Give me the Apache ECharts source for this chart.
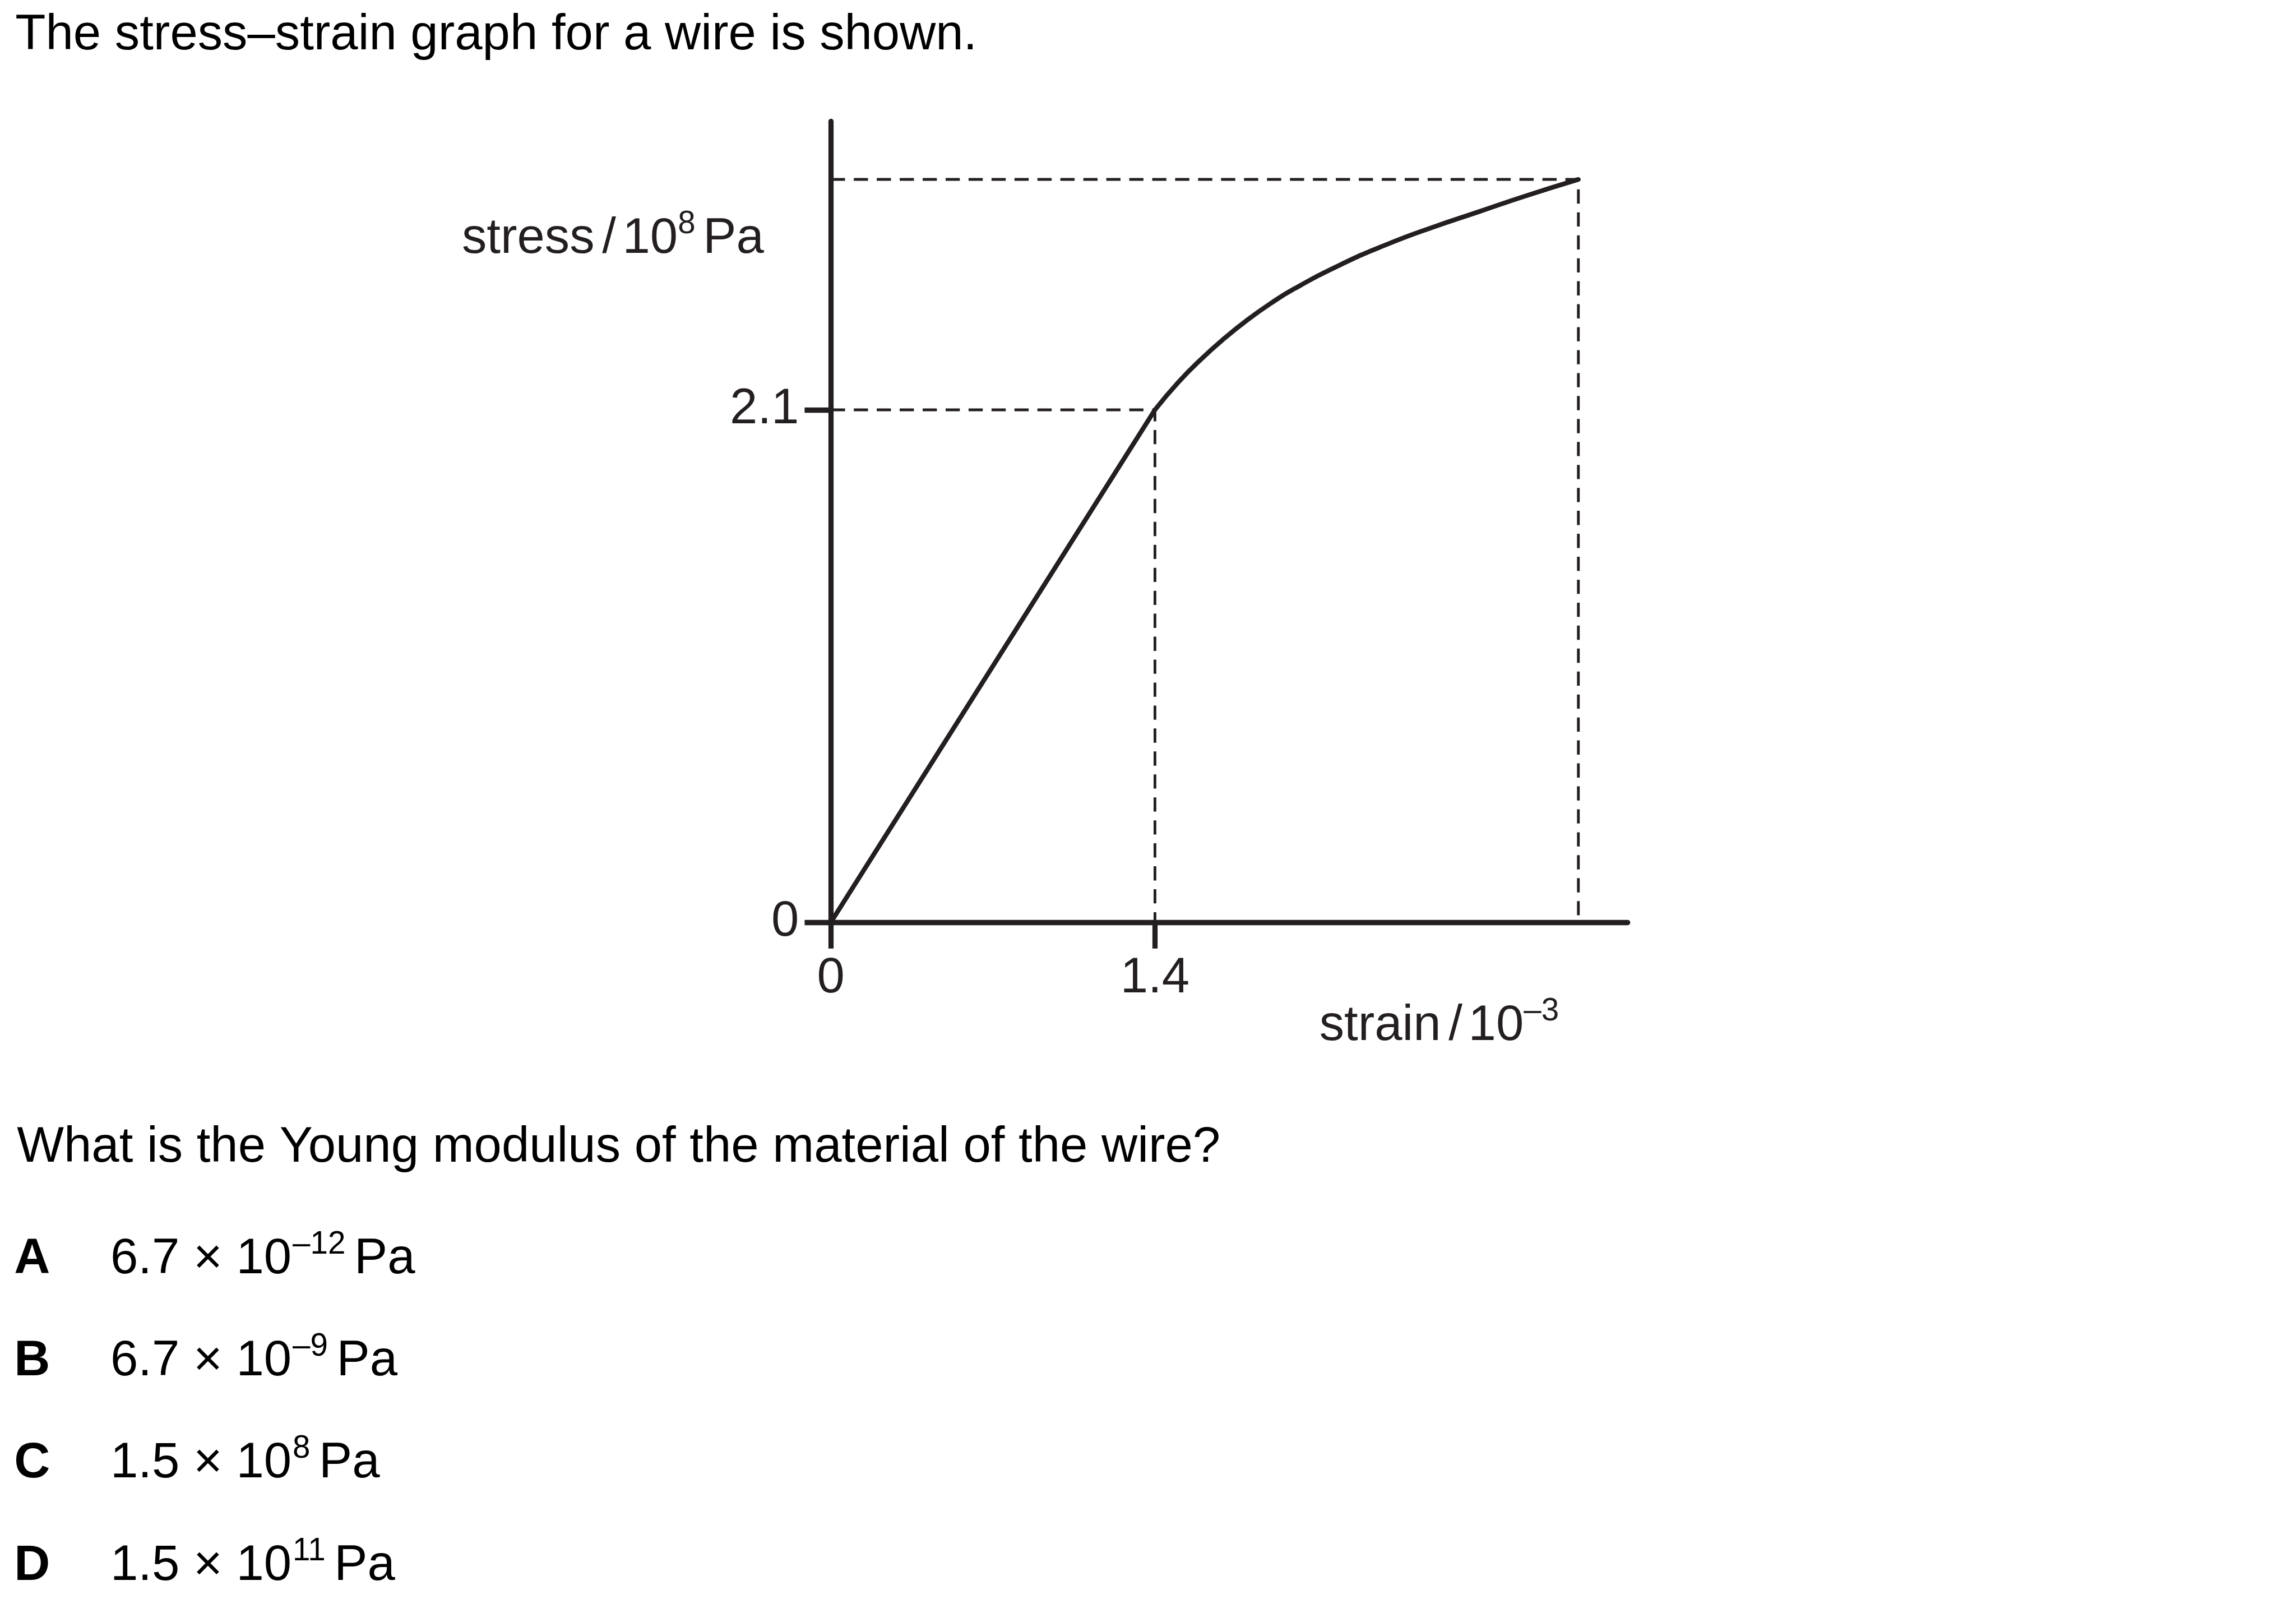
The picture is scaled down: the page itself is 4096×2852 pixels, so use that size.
<!DOCTYPE html>
<html><head><meta charset="utf-8">
<script src="https://cdn.jsdelivr.net/npm/echarts@6/dist/echarts.min.js"></script>
<style>html,body{margin:0;padding:0;background:#fff;}#c{width:4096px;height:2852px;}</style>
</head><body><div id="c"></div>
<script>
// ---------- data ----------
const xTicks = [0, 1.4];
const yTicks = [0, 2.1];
const xTickLabels = ['0', '1.4'];
const yTickLabels = ['0', '2.1'];
const linearStrain = [0, 1.4];
const linearStress = [0, 2.1];
const curveStrain = [1.4, 1.5, 1.6, 1.7, 1.8, 1.9, 2.0, 2.2, 2.4, 2.6, 2.8, 3.0, 3.229];
const curveStress = [2.1, 2.212, 2.308, 2.393, 2.469, 2.536, 2.595, 2.694, 2.777, 2.848, 2.912, 2.976, 3.044];
const yieldPoint = [1.4, 2.1];
const breakPoint = [3.229, 3.044];
const xMax = 3.442;
const yMax = 3.282;
const titleText = 'The stress\u2013strain graph for a wire is shown.';
const questionText = 'What is the Young modulus of the material of the wire?';
const optionLetters = ['A', 'B', 'C', 'D'];
const optionMantissa = ['6.7', '6.7', '1.5', '1.5'];
const optionExponent = ['\u201312', '\u20139', '8', '11'];
const optionUnit = 'Pa';

// ---------- layout helpers ----------
const S = 0.975;
const px = v => v * S;
const FAM = '"Liberation Sans", Arial, Helvetica, sans-serif';
const MAIN = 91, SUP = 58, RAISE = 36;
const INK = '#231f20';
const mc = document.createElement('canvas').getContext('2d');
function fnt(size, bold) { return (bold ? 'bold ' : 'normal ') + (size * S).toFixed(2) + 'px ' + FAM; }
function midOff(f) {
  mc.font = f; mc.textBaseline = 'alphabetic';
  const a = mc.measureText('H').actualBoundingBoxAscent;
  mc.textBaseline = 'middle';
  const m = mc.measureText('H').actualBoundingBoxAscent;
  return a - m;
}
function textW(t, f) { mc.font = f; mc.textBaseline = 'alphabetic'; return mc.measureText(t).width; }
function run(x0, base, parts, color) {
  const els = []; let x = px(x0);
  parts.forEach(p => {
    const f = fnt(p.sup ? SUP : MAIN, p.bold);
    if (p.gap) x += px(p.gap);
    const y = px(base) - (p.sup ? px(RAISE) : 0) - midOff(f);
    els.push({ type: 'text', silent: true, z: 10,
      style: { text: p.t, x: x, y: y, font: f, fill: color, align: 'left', verticalAlign: 'middle' } });
    x += textW(p.t, f);
  });
  return els;
}

const graphics = [];
graphics.push(...run(28, 90, [{ t: titleText }], '#000'));
graphics.push(...run(845, 463, [{ t: 'stress' }, { t: '/', gap: 14 }, { t: '10', gap: 12 }, { t: '8', sup: true }, { t: 'Pa', gap: 14 }], INK));
graphics.push(...run(2414, 1903, [{ t: 'strain' }, { t: '/', gap: 14 }, { t: '10', gap: 11 }, { t: '\u20133', sup: true }], INK));
graphics.push(...run(31, 2125, [{ t: questionText }], '#000'));
const optBase = [2329, 2516, 2703, 2890];
optionLetters.forEach((L, i) => {
  graphics.push(...run(26, optBase[i], [{ t: L, bold: true }], '#000'));
  graphics.push(...run(202, optBase[i], [
    { t: optionMantissa[i] + ' \u00d7 10' },
    { t: optionExponent[i], sup: true, gap: 2 },
    { t: optionUnit, gap: 16 }
  ], '#000'));
});

const labelFont = fnt(MAIN, false);
const labelOff = midOff(labelFont);
const axisY0 = 1687.2, axisX0 = 1520.2;

const chart = echarts.init(document.getElementById('c'), null, { renderer: 'canvas' });
chart.setOption({
  animation: false,
  backgroundColor: '#fff',
  grid: { left: px(axisX0), top: px(222), width: px(1458), height: px(axisY0 - 222), containLabel: false, outerBoundsMode: 'none' },
  xAxis: {
    type: 'value', min: 0, max: xMax,
    axisLine: { show: true, onZero: false, lineStyle: { color: INK, width: px(9.5) } },
    axisTick: { show: true, inside: false, customValues: xTicks, length: px(48), lineStyle: { color: INK, width: px(9.5) } },
    axisLabel: { show: true, customValues: xTicks, formatter: v => xTickLabels[xTicks.indexOf(v)] ?? '',
      verticalAlign: 'middle', margin: px(1815 - axisY0) - labelOff,
      fontFamily: FAM, fontSize: MAIN * S, color: INK },
    splitLine: { show: false }
  },
  yAxis: {
    type: 'value', min: 0, max: yMax,
    axisLine: { show: true, onZero: false, lineStyle: { color: INK, width: px(9.5) } },
    axisTick: { show: true, inside: false, customValues: yTicks, length: px(48), lineStyle: { color: INK, width: px(9.5) } },
    axisLabel: { show: true, customValues: yTicks, formatter: v => yTickLabels[yTicks.indexOf(v)] ?? '',
      margin: px(axisX0 - 1462), fontFamily: FAM, fontSize: MAIN * S, color: INK },
    splitLine: { show: false }
  },
  series: [
    { type: 'line', name: 'guide-yield', silent: true, showSymbol: false, z: 1,
      data: [[0, yieldPoint[1]], yieldPoint, [yieldPoint[0], 0]],
      lineStyle: { color: INK, width: px(5), type: [px(26), px(16)] } },
    { type: 'line', name: 'guide-break', silent: true, showSymbol: false, z: 1,
      data: [[0, breakPoint[1]], breakPoint, [breakPoint[0], 0]],
      lineStyle: { color: INK, width: px(5), type: [px(26), px(16)] } },
    { type: 'line', name: 'linear', silent: true, showSymbol: false, z: 3,
      data: linearStrain.map((x, i) => [x, linearStress[i]]),
      lineStyle: { color: INK, width: px(8.5), cap: 'round' } },
    { type: 'line', name: 'plastic', silent: true, showSymbol: false, z: 3, smooth: 0.5,
      data: curveStrain.map((x, i) => [x, curveStress[i]]),
      lineStyle: { color: INK, width: px(8.5), cap: 'round', join: 'round' } }
  ],
  graphic: graphics
});
</script></body></html>
